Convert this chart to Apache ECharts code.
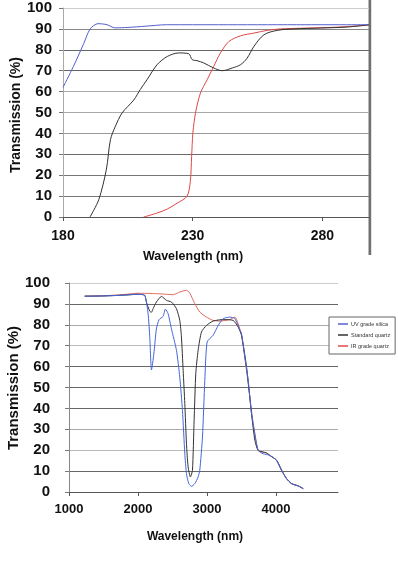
<!DOCTYPE html>
<html>
<head>
<meta charset="utf-8">
<script src="https://cdn.jsdelivr.net/npm/echarts@6/dist/echarts.min.js"></script>
<style>
  html, body { margin: 0; padding: 0; background: #fff; }
  #main { width: 398px; height: 567px; }
</style>
</head>
<body>
<div id="main"></div>
<script>
// ---- top chart (UV range, 180 - 298 nm) ----
const topTicks = [180, 230, 280]
const topUvNm = [180, 184, 188, 190.5, 193.5, 197, 200, 205, 212, 220, 240, 270, 298]
const topUvT = [62, 72, 83, 90, 92.5, 92, 90.5, 90.7, 91.3, 92, 92, 92, 92]
const topStdNm = [190.4, 193.8, 196.7, 198.3, 200.2, 202.8, 207.3, 209.8, 212.4, 216.3, 220.2, 224.6, 228.5, 229.8, 231.7, 234.3, 238.1, 241.4, 245.3, 248.5, 251, 253.6, 257.5, 262.6, 269, 279.3, 289.7, 298]
const topStdT = [0, 8.3, 22.6, 37, 43.4, 49.8, 56, 61, 65.7, 72.9, 76.8, 78.5, 78.1, 75.3, 74.8, 73.7, 71.3, 70, 71.3, 72.9, 76, 81.6, 87.2, 89.3, 90, 90.4, 90.9, 92]
const topIrNm = [211.1, 216.3, 220.2, 224.1, 227.8, 229.1, 229.6, 230.1, 231.1, 233, 235.6, 238.1, 240.7, 244, 248.5, 253.6, 258.8, 263.9, 271.6, 285, 298]
const topIrT = [0, 1.9, 3.8, 6.7, 9.9, 17, 29, 40.4, 49.8, 59.3, 65.7, 72, 78.5, 84, 86.7, 88, 89.3, 90, 90.3, 90.8, 91.8]

// ---- bottom chart (IR range, 1000 - 4900 nm) ----
const botTicks = [1000, 2000, 3000, 4000]
const botUvNm = [1227, 1500, 1800, 2000, 2098, 2147, 2171, 2196, 2230, 2267, 2306, 2364, 2398, 2437, 2485, 2558, 2606, 2645, 2679, 2703, 2737, 2775, 2824, 2872, 2896, 2935, 2969, 3003, 3090, 3163, 3235, 3332, 3404, 3477, 3501, 3550, 3598, 3646, 3695, 3743, 3815, 3912, 4009, 4082, 4154, 4227, 4324, 4396]
const botUvT = [93.7, 93.8, 94.2, 94.6, 94.1, 85.3, 74, 58.4, 66, 78, 82.5, 84, 87.5, 85.3, 78.1, 67.8, 55, 39, 18.3, 8.8, 4, 2.7, 4, 7.2, 10.4, 26.3, 53.4, 71.8, 75, 79.7, 82.9, 83.7, 83, 77.4, 75.8, 64.6, 53.4, 37.5, 27.9, 19.9, 18.3, 17.5, 15.2, 10.4, 6.4, 4, 2.9, 1.6]
const botStdNm = [1227, 1500, 1800, 2000, 2098, 2122, 2171, 2195, 2219, 2267, 2340, 2413, 2485, 2558, 2606, 2630, 2655, 2679, 2703, 2727, 2760, 2790, 2814, 2838, 2872, 2921, 2993, 3090, 3235, 3380, 3453, 3501, 3574, 3646, 3695, 3743, 3864, 3912, 4009, 4082, 4154, 4227, 4324, 4396]
const botStdT = [93.7, 93.8, 94.2, 94.6, 94.1, 90.9, 86.5, 86, 87.7, 90.9, 93.6, 91.7, 90.9, 87.7, 82.1, 74.2, 58.2, 42.3, 23.1, 12, 7.2, 10.4, 34.3, 56.6, 67.8, 76.6, 79.7, 81.8, 82.5, 82.1, 78.9, 75, 59.8, 37.5, 24.7, 19.9, 18.7, 17.5, 15.2, 10.4, 6.4, 4, 2.9, 1.6]
const botIrNm = [1227, 1500, 1800, 2000, 2267, 2413, 2510, 2606, 2703, 2751, 2824, 2896, 2993, 3090, 3187, 3332, 3404, 3453, 3501, 3574, 3622, 3671, 3743, 3864, 3912, 4009, 4082, 4154, 4227, 4324, 4396]
const botIrT = [93.7, 93.9, 94.5, 95.1, 94.9, 94.6, 94.4, 95.7, 96.5, 95.2, 90.1, 86.1, 83.7, 82.1, 81.8, 82.5, 83.7, 80.5, 75, 58.2, 45.5, 32.7, 19.9, 18.7, 17.5, 15.2, 10.4, 6.4, 4, 2.9, 1.6]

const seriesNames = ['UV grade silica', 'Standard quartz', 'IR grade quartz']

const FONT = 'Liberation Sans, Arial, sans-serif'

function pairs (xs, ys) {
  return xs.map((x, i) => [x, ys[i]])
}

// gridline shades, listed for 0,10,...,100
const topGridColors = ['#666', '#777', '#777', '#6a6a6a', '#999', '#aaa', '#aaa', '#666', '#666', '#888', '#ccc']
const botGridColors = ['#666', '#666', '#bbb', '#aaa', '#666', '#666', '#666', '#bbb', '#aaa', '#666', '#ccc']

function yAxisOpt (gridIndex, labelMargin, axisColor, gridColors) {
  return {
    type: 'value',
    gridIndex: gridIndex,
    min: 0,
    max: 100,
    interval: 10,
    axisLine: { show: true, lineStyle: { color: axisColor, width: 1 } },
    axisTick: { show: true, length: 4, lineStyle: { color: '#777' } },
    axisLabel: {
      margin: labelMargin,
      color: '#111',
      fontSize: 15,
      fontWeight: 'bold',
      fontFamily: FONT
    },
    splitLine: { show: true, lineStyle: { color: gridColors, width: 1 } }
  }
}

function xAxisOpt (gridIndex, min, max, ticks, fontSize, labelMargin) {
  return {
    type: 'value',
    gridIndex: gridIndex,
    min: min,
    max: max,
    axisLine: { show: true, onZero: false, lineStyle: { color: '#555', width: 1 } },
    axisTick: { show: true, length: 4, customValues: ticks, lineStyle: { color: '#555' } },
    axisLabel: {
      customValues: ticks,
      formatter: (v) => String(v), // no thousands separator
      margin: labelMargin,
      color: '#111',
      fontSize: fontSize,
      fontWeight: 'bold',
      fontFamily: FONT
    },
    splitLine: { show: false }
  }
}

function lineSeries (name, data, color, axisIndex, smooth) {
  return {
    name: name,
    type: 'line',
    xAxisIndex: axisIndex,
    yAxisIndex: axisIndex,
    data: data,
    symbol: 'none',
    smooth: smooth,
    lineStyle: { color: color, width: 1 },
    itemStyle: { color: color },
    emphasis: { disabled: true }
  }
}

const chart = echarts.init(document.getElementById('main'), null, { renderer: 'canvas' })

const option = {
  animation: false,
  backgroundColor: '#fff',
  grid: [
    { left: 63, top: 8, width: 306, height: 209 },
    { left: 69, top: 283, width: 269, height: 209 }
  ],
  xAxis: [
    xAxisOpt(0, 180, 298, topTicks, 14, 12),
    xAxisOpt(1, 1000, 4900, botTicks, 13, 11)
  ],
  yAxis: [
    yAxisOpt(0, 11, '#aaa', topGridColors),
    yAxisOpt(1, 19, '#888', botGridColors)
  ],
  legend: {
    data: seriesNames,
    orient: 'vertical',
    left: 329,
    top: 317,
    padding: [4, 5, 5, 9],
    itemGap: 5,
    itemWidth: 10,
    itemHeight: 1.5,
    icon: 'rect',
    backgroundColor: '#fff',
    borderColor: '#666',
    borderWidth: 1,
    selectedMode: false,
    textStyle: { fontSize: 5.5, color: '#333', fontFamily: FONT, padding: [0, 0, 0, -2] }
  },
  series: [
    // top
    lineSeries('IR grade quartz', pairs(topIrNm, topIrT), '#e04848', 0, 0.3),
    lineSeries('Standard quartz', pairs(topStdNm, topStdT), '#333', 0, 0.3),
    lineSeries('UV grade silica', pairs(topUvNm, topUvT), '#5560cc', 0, 0.3),
    // bottom
    lineSeries('IR grade quartz', pairs(botIrNm, botIrT), '#e06a60', 1, 0.2),
    lineSeries('Standard quartz', pairs(botStdNm, botStdT), '#333', 1, 0.2),
    lineSeries('UV grade silica', pairs(botUvNm, botUvT), '#4466dd', 1, 0.2)
  ],
  graphic: [
    // heavy frame edge on the right of the top picture
    {
      type: 'rect',
      shape: { x: 368.5, y: 0, width: 2.7, height: 255 },
      style: { fill: '#707070' }
    },
    {
      type: 'text',
      x: 16,
      y: 115,
      rotation: Math.PI / 2,
      style: { text: 'Transmission (%)', fill: '#111', font: 'bold 14px ' + FONT, align: 'center', verticalAlign: 'middle' }
    },
    {
      type: 'text',
      x: 193,
      y: 257,
      style: { text: 'Wavelength (nm)', fill: '#111', font: 'bold 12.5px ' + FONT, align: 'center', verticalAlign: 'middle' }
    },
    {
      type: 'text',
      x: 13.5,
      y: 388,
      rotation: Math.PI / 2,
      style: { text: 'Transmission (%)', fill: '#111', font: 'bold 15px ' + FONT, align: 'center', verticalAlign: 'middle' }
    },
    {
      type: 'text',
      x: 195,
      y: 537,
      style: { text: 'Wavelength (nm)', fill: '#111', font: 'bold 12px ' + FONT, align: 'center', verticalAlign: 'middle' }
    }
  ]
}

chart.setOption(option)
</script>
</body>
</html>
